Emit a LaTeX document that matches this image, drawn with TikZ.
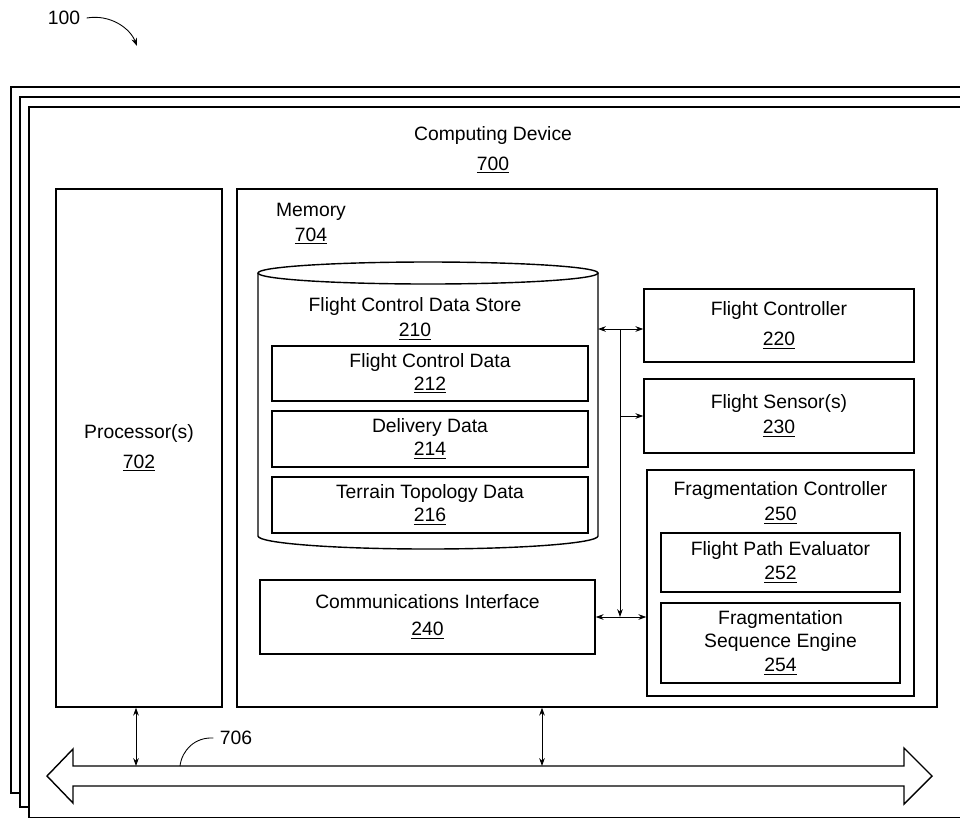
\documentclass[tikz,border=0pt]{standalone}
\usepackage{fontspec}
\setmainfont{Liberation Sans}
\usetikzlibrary{arrows.meta}
\begin{document}
\begin{tikzpicture}[
        x=0.02cm, y=-0.02cm,
        line width=0.8pt,
        txt/.style={align=center, font=\fontsize{11}{13}\selectfont},
        box/.style 2 args={draw, txt, inner sep=0pt, minimum width=#1*0.02cm, minimum height=#2*0.02cm},
        sheet/.style={draw, fill=white},
        tip/.style={line width=0.5pt, -{Stealth[length=4.5pt,width=3.2pt]}},
        link/.style={line width=0.5pt, {Stealth[length=4.5pt,width=3.2pt]}-{Stealth[length=4.5pt,width=3.2pt]}}
    ]
    \clip (0,0) rectangle (960,819);

    \draw[sheet] (11,87) rectangle (1000,793);
    \draw[sheet] (20,97) rectangle (1000,807);
    \draw[sheet] (29,107) rectangle (1000,817.5);

    \node[txt] (ref100) at (64,18) {100};
    \draw[tip] (ref100.east) .. controls (110,14) and (130,28) .. (137,46);

    \node[txt] (devlbl) at (493,150) {Computing Device\\[4pt]\underline{700}};

    \node[box={166}{518}] (proc) at (139,448) {Processor(s)\\[4pt]\underline{702}};
    \node[box={700}{518}] (mem) at (587,448) {};
    \node[txt] (memlbl) at (311,224) {Memory\\[1pt]\underline{704}};

    \draw (258,273) -- (258,536) arc[start angle=180, end angle=0, x radius=170, y radius=13] -- (598,273);
    \draw (428,273) ellipse[x radius=170, y radius=11];
    \node[txt] (storelbl) at (415,319) {Flight Control Data Store\\[1pt]\underline{210}};
    \node[box={316}{55}] (fcdata) at (430,373.5) {Flight Control Data\\\underline{212}};
    \node[box={316}{56}] (deliv) at (430,439) {Delivery Data\\\underline{214}};
    \node[box={316}{56}] (terrain) at (430,505) {Terrain Topology Data\\\underline{216}};

    \node[box={335}{74}] (comm) at (427.5,617) {Communications Interface\\[2pt]\underline{240}};

    \node[box={270}{73}] (fctrl) at (779,325.5) {Flight Controller\\[4pt]\underline{220}};
    \node[box={270}{74}] (fsens) at (779,416) {Flight Sensor(s)\\[1pt]\underline{230}};
    \node[box={267}{226}] (frag) at (780.5,583) {};
    \node[txt] (fraglbl) at (780.5,503) {Fragmentation Controller\\[1pt]\underline{250}};
    \node[box={239}{59}] (fpe) at (780.5,562.5) {Flight Path Evaluator\\[1pt]\underline{252}};
    \node[box={239}{80}] (fse) at (780.5,643) {Fragmentation\\Sequence Engine\\[1pt]\underline{254}};

    \coordinate (storeR) at (598,329);
    \coordinate (junc) at (620,329);
    \coordinate (juncB) at (620,617);
    \draw[link] (storeR) -- (storeR -| fctrl.west);
    \draw[tip] (junc) -- (juncB);
    \draw[tip] (junc |- fsens.west) -- (fsens.west);
    \draw[link] (comm.east) -- (comm.east -| frag.west);

    \draw[fill=white] (47,776) -- (73,749) -- (73,766) -- (904,766) -- (904,748) -- (932,776)
        -- (904,804) -- (904,786) -- (73,786) -- (73,803) -- cycle;
    \coordinate (busP) at (136,766);
    \coordinate (busM) at (542,766);
    \draw[link] (busP |- proc.south) -- (busP);
    \draw[link] (busM |- mem.south) -- (busM);

    \node[txt] (ref706) at (236,738) {706};
    \draw[line width=0.5pt] (ref706.west) .. controls (195,737) and (182,750) .. (180,766);
\end{tikzpicture}
\end{document}
